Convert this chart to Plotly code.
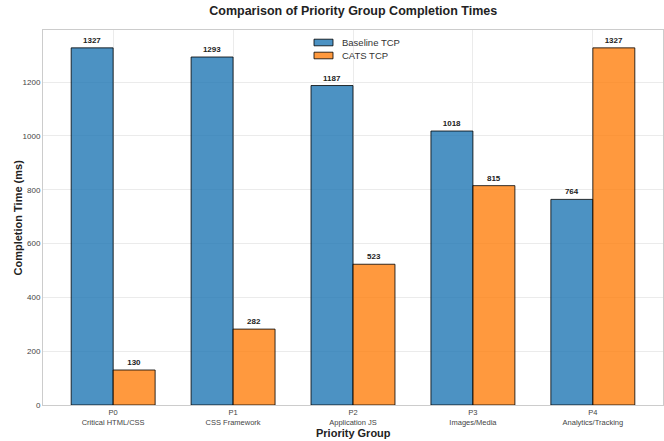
import plotly.graph_objects as go

# Completion time per priority group (ms)
groups = ["P0<br>Critical HTML/CSS", "P1<br>CSS Framework", "P2<br>Application JS",
          "P3<br>Images/Media", "P4<br>Analytics/Tracking"]
baseline_tcp = [1327, 1293, 1187, 1018, 764]
cats_tcp = [130, 282, 523, 815, 1327]
series_names = ["Baseline TCP", "CATS TCP"]
series_colors = ["rgba(31,119,180,0.8)", "rgba(255,127,14,0.8)"]

x_pos = list(range(len(groups)))
font_family = "Liberation Sans, Arial, sans-serif"
edge = "rgba(0,0,0,0.8)"

fig = go.Figure()
for name, vals, col in zip(series_names, [baseline_tcp, cats_tcp], series_colors):
    fig.add_trace(go.Bar(
        x=x_pos, y=vals, name=name,
        marker=dict(color=col, line=dict(color=edge, width=1)),
        text=[f"<b>{v}</b>" for v in vals], textposition="outside",
        textfont=dict(size=8, color="#222"), cliponaxis=False,
    ))

# Pixel-to-paper helpers for the legend and axis titles
W, H = 664, 441
ml, mr, mt, mb = 43, 1, 30, 36
pw, ph = W - ml - mr, H - mt - mb


def px_x(x):
    return (x - ml) / pw


def px_y(y):
    return (H - mb - y) / ph


shapes = []
annotations = []
for i, (name, col) in enumerate(zip(series_names, series_colors)):
    yc = 42.5 + i * 13
    shapes.append(dict(type="rect", xref="paper", yref="paper",
                       x0=px_x(314), x1=px_x(333), y0=px_y(yc - 3.3), y1=px_y(yc + 3.3),
                       fillcolor=col, line=dict(color=edge, width=1)))
    annotations.append(dict(xref="paper", yref="paper", x=px_x(340), y=px_y(yc),
                            xanchor="left", yanchor="middle", showarrow=False,
                            text=name, font=dict(size=9.5, color="#333")))

# Axis titles
annotations.append(dict(xref="paper", yref="paper", x=px_x(17), y=0.5,
                        xanchor="center", yanchor="middle", showarrow=False, textangle=-90,
                        text="<b>Completion Time (ms)</b>", font=dict(size=11, color="#222")))
annotations.append(dict(xref="paper", yref="paper", x=0.5, y=px_y(433),
                        xanchor="center", yanchor="middle", showarrow=False,
                        text="<b>Priority Group</b>", font=dict(size=11, color="#222")))

fig.update_layout(
    width=W, height=H,
    margin=dict(l=ml, r=mr, t=mt, b=mb, autoexpand=False),
    paper_bgcolor="white", plot_bgcolor="white",
    font=dict(family=font_family, size=8, color="#444"),
    barmode="group", bargap=0.3, bargroupgap=0,
    title=dict(text="<b>Comparison of Priority Group Completion Times</b>",
               x=0.532, xanchor="center", y=0.975, yanchor="middle",
               font=dict(size=12.5, color="#222")),
    showlegend=False,
    shapes=shapes,
    annotations=annotations,
)
fig.update_xaxes(
    tickmode="array", tickvals=x_pos, ticktext=groups,
    range=[-0.585, 4.585],
    showgrid=True, gridcolor="#ebebeb", gridwidth=1,
    showline=True, linecolor="#cccccc", mirror=True, linewidth=1,
    ticks="", tickfont=dict(size=7.5, color="#444"), automargin=False,
)
fig.update_yaxes(
    range=[0, 1393.35], dtick=200,
    showgrid=True, gridcolor="#ebebeb", gridwidth=1,
    showline=True, linecolor="#cccccc", mirror=True, linewidth=1,
    zeroline=False, ticks="", tickfont=dict(size=8, color="#444"), automargin=False,
)

fig.write_html("out.html")
